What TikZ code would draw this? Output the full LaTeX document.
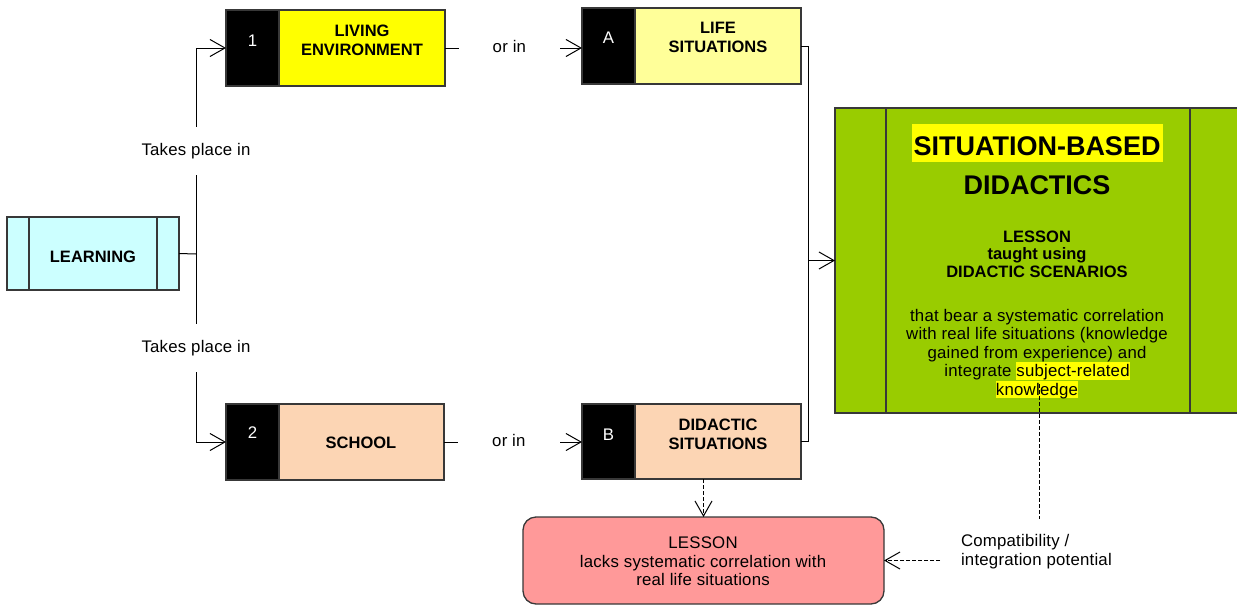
\documentclass[tikz,border=0pt]{standalone}
\usepackage{fontspec}
\setmainfont{Liberation Sans}
\newfontfamily\spacedsans{Liberation Sans}[LetterSpace=1.3]
\usetikzlibrary{arrows.meta,calc}

\definecolor{cyanbox}{HTML}{CCFFFF}
\definecolor{livingyellow}{HTML}{FFFF00}
\definecolor{lifeyellow}{HTML}{FFFF99}
\definecolor{peach}{HTML}{FCD5B4}
\definecolor{grassgreen}{HTML}{99CC00}
\definecolor{rose}{HTML}{FF9999}
\definecolor{edge}{HTML}{383838}

% yellow text marker
\newcommand{\hilite}[1]{{\setlength{\fboxsep}{0pt}\colorbox{livingyellow}{\rule[-3pt]{0pt}{17.5pt}#1}}}

\begin{document}
\begin{tikzpicture}[x=1pt,y=-1pt,
  every node/.style={inner sep=0pt, outer sep=0pt},
  frame/.style={draw=edge, line width=1.3pt},
  tab/.style={frame, fill=black, minimum width=53pt, anchor=north west},
  boldtxt/.style={font=\fontsize{16.5}{19}\selectfont\bfseries, anchor=base},
  plaintxt/.style={font=\fontsize{16.8}{18.5}\selectfont\spacedsans, anchor=base},
  numtxt/.style={plaintxt, text=white},
  headtxt/.style={font=\fontsize{27}{38}\selectfont\bfseries, anchor=base},
  link/.style={draw=black, line width=1pt},
  openarrow/.style={-{Straight Barb[length=15pt,width=17pt]}},
  dotlink/.style={link, dash pattern=on 4pt off 2pt},
  gaplabel/.style={fill=white, font=\fontsize{16.8}{18.5}\selectfont\spacedsans,
    text height=12pt, text depth=4pt, inner ysep=16pt},
]
\useasboundingbox (0,0) rectangle (1237,605);

% ---- LEARNING ----
\node[frame, fill=cyanbox, minimum width=172pt, minimum height=73pt] (learn) at (93,253.5) {};
\draw[frame] ($(learn.north west)+(22,0)$) -- ($(learn.south west)+(22,0)$);
\draw[frame] ($(learn.north east)+(-22,0)$) -- ($(learn.south east)+(-22,0)$);
\node[boldtxt] (learntxt) at (93,262) {LEARNING};

% ---- 1 LIVING ENVIRONMENT ----
\node[frame, fill=livingyellow, minimum width=219pt, minimum height=76pt] (b1) at (335.5,48) {};
\node[tab, minimum height=76pt] (t1) at (b1.north west) {};
\node[numtxt] (n1) at (252.5,46) {1};
\node[boldtxt] (b1a) at (362,36) {LIVING};
\node[boldtxt] (b1b) at (362,55) {ENVIRONMENT};

% ---- A LIFE SITUATIONS ----
\node[frame, fill=lifeyellow, minimum width=219pt, minimum height=76pt] (bA) at (691.5,46) {};
\node[tab, minimum height=76pt] (tA) at (bA.north west) {};
\node[numtxt] (nA) at (608.5,43) {A};
\node[boldtxt] (bAa) at (718,34) {LIFE};
\node[boldtxt] (bAb) at (718,52) {SITUATIONS};

% ---- 2 SCHOOL ----
\node[frame, fill=peach, minimum width=218pt, minimum height=76pt] (b2) at (335,442) {};
\node[tab, minimum height=76pt] (t2) at (b2.north west) {};
\node[numtxt] (n2) at (252.5,438) {2};
\node[boldtxt] (b2a) at (361,448) {SCHOOL};

% ---- B DIDACTIC SITUATIONS ----
\node[frame, fill=peach, minimum width=219pt, minimum height=75pt] (bB) at (691.5,441.5) {};
\node[tab, minimum height=75pt] (tB) at (bB.north west) {};
\node[numtxt] (nB) at (608.5,440) {B};
\node[boldtxt] (bBa) at (718,430) {DIDACTIC};
\node[boldtxt] (bBb) at (718,449) {SITUATIONS};

% ---- SITUATION-BASED DIDACTICS ----
\node[frame, fill=grassgreen, minimum width=406pt, minimum height=305pt] (sbd) at (1038,260.5) {};
\draw[frame] ($(sbd.north west)+(51,0)$) -- ($(sbd.south west)+(51,0)$);
\draw[frame] ($(sbd.north east)+(-51,0)$) -- ($(sbd.south east)+(-51,0)$);
\node[headtxt] (sbd1) at (1037,155) {{\setlength{\fboxsep}{0pt}\colorbox{livingyellow}{\hspace{2pt}\rule[-7pt]{0pt}{38pt}SITUATION-BASED\hspace{2pt}}}};
\node[headtxt] (sbd2) at (1037,194) {DIDACTICS};
\node[boldtxt] (sbd3) at (1037,242) {LESSON};
\node[boldtxt] (sbd4) at (1037,259.5) {taught using};
\node[boldtxt] (sbd5) at (1037,277) {DIDACTIC SCENARIOS};
\node[plaintxt] (sbd6) at (1037,321) {that bear a systematic correlation};
\node[plaintxt] (sbd7) at (1037,339.5) {with real life situations (knowledge};
\node[plaintxt] (sbd8) at (1037,358) {gained from experience) and};
\node[plaintxt] (sbd9) at (1037,376.5) {integrate \hilite{subject-related}};
\node[plaintxt] (sbd10) at (1037,395) {\hilite{knowledge}};

% ---- LESSON lacking correlation ----
\node[frame, fill=rose, rounded corners=13pt, minimum width=361pt, minimum height=87pt] (pink) at (703.5,560.5) {};
\node[plaintxt] (pk1) at (703,548) {LESSON};
\node[plaintxt] (pk2) at (703,567) {lacks systematic correlation with};
\node[plaintxt] (pk3) at (703,585) {real life situations};

% ---- compatibility note ----
\node[plaintxt, anchor=base west] (cp1) at (961,546) {Compatibility /};
\node[plaintxt, anchor=base west] (cp2) at (961,565) {integration potential};

% ---- connectors ----
\coordinate (fork) at (196,254);
\draw[link] (learn.east) -- (fork);
\draw[link, openarrow] (fork) |- node[gaplabel, pos=0.25] (tp1) {Takes place in} (b1.west);
\draw[link, openarrow] (fork) |- node[gaplabel, pos=0.25] (tp2) {Takes place in} (b2.west);

\draw[link, openarrow] (b1.east) -- node[gaplabel, pos=0.47, inner ysep=3pt, inner xsep=34pt] (or1) {or in} (b1.east -| bA.west);
\draw[link, openarrow] (b2.east) -- node[gaplabel, pos=0.47, inner ysep=3pt, inner xsep=34pt] (or2) {or in} (b2.east -| bB.west);

\coordinate (bus) at ($(sbd.west)+(-27,0)$);
\draw[link] (bA.east) -| (bus);
\draw[link] (bB.east) -| (bus);
\draw[link, openarrow] (bus) -- (sbd.west);

\draw[dotlink, openarrow] (pink.north |- bB.south) -- (pink.north);

\coordinate (kn) at (1039,384);
\coordinate (knend) at (1039,519);
\draw[dotlink] (kn) -- (knend);
\coordinate (cpstart) at (940,560.5);
\draw[dotlink, openarrow] (cpstart) -- (pink.east);
\end{tikzpicture}
\end{document}
